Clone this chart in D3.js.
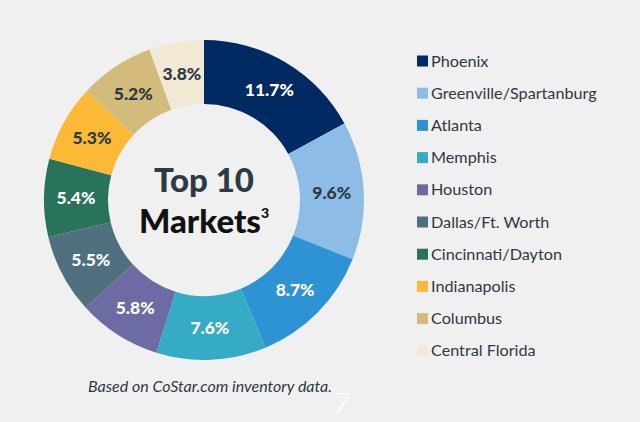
<!DOCTYPE html>
<html><head><meta charset="utf-8">
<script src="https://cdn.jsdelivr.net/npm/d3@7"></script>
<style>html,body{margin:0;padding:0;background:#f0f0f0;}svg{display:block;}</style>
</head><body>
<script>
const markets = ["Phoenix","Greenville/Spartanburg","Atlanta","Memphis","Houston","Dallas/Ft. Worth","Cincinnati/Dayton","Indianapolis","Columbus","Central Florida"];
const shares = [11.7,9.6,8.7,7.6,5.8,5.5,5.4,5.3,5.2,3.8];
const colors = ["#012a62","#8dbce6","#2e93d4","#35abc5","#6c6ba4","#50707f","#28735a","#fbb935","#d2bb7b","#f1e9d4"];
const labelColors = ["#fff","#2b3a45","#fff","#fff","#fff","#fff","#fff","#2b3a45","#2b3a45","#2b3a45"];

const W=640,H=422;
const svg=d3.select("body").append("svg").attr("width",W).attr("height",H);
svg.append("rect").attr("width",W).attr("height",H).attr("fill","#f0f0f0");
const font="Lato, 'Noto Sans', sans-serif";
const cx=204, cy=200, rOut=160, rIn=96;
const data=markets.map((m,i)=>({m,v:shares[i],c:colors[i],lc:labelColors[i]}));
const pie=d3.pie().value(d=>d.v).sort(null);
const arc=d3.arc().innerRadius(rIn).outerRadius(rOut);
const g=svg.append("g").attr("transform",`translate(${cx},${cy})`);
const arcs=pie(data);
g.selectAll("path").data(arcs).join("path").attr("d",arc).attr("fill",d=>d.data.c);
const lab=d3.arc().innerRadius(128).outerRadius(128);
g.selectAll("text.v").data(arcs).join("text").attr("class","v")
 .attr("x",d=>lab.centroid(d)[0]).attr("y",d=>lab.centroid(d)[1])
 .attr("text-anchor","middle").attr("dy","0.35em")
 .attr("fill",d=>d.data.lc).attr("font-family",font).attr("font-weight",900).attr("font-size",17.5)
 .text(d=>d3.format(".1f")(d.data.v)+"%");

g.append("text").attr("text-anchor","middle").attr("y",-8).attr("font-family",font).attr("font-weight",900)
 .attr("font-size",33).attr("fill","#2b3a45").text("Top 10");
const t2=g.append("text").attr("text-anchor","middle").attr("y",33).attr("font-family",font).attr("font-weight",900)
 .attr("font-size",33).attr("fill","#111");
t2.append("tspan").text("Markets");
t2.append("tspan").attr("font-size",14).attr("dy",-15).text("3");

const leg=svg.append("g").attr("transform","translate(417,61)");
const row=leg.selectAll("g").data(data).join("g").attr("transform",(d,i)=>`translate(0,${i*32.2})`);
row.append("rect").attr("x",0).attr("y",-5.5).attr("width",11).attr("height",11).attr("fill",d=>d.c);
row.append("text").attr("x",14).attr("dy","0.35em").attr("font-family",font).attr("font-size",16.2)
 .attr("fill","#2b3a45").text(d=>d.m);

svg.append("text").attr("x",88).attr("y",392).attr("font-family",font).attr("font-style","italic")
 .attr("font-size",16).attr("fill","#2b3a45").text("Based on CoStar.com inventory data.");
svg.append("text").attr("x",333).attr("y",414).attr("font-family",font).attr("font-weight",300).attr("font-style","italic")
 .attr("font-size",30).attr("fill","#fff").text("7");
</script>
</body></html>
